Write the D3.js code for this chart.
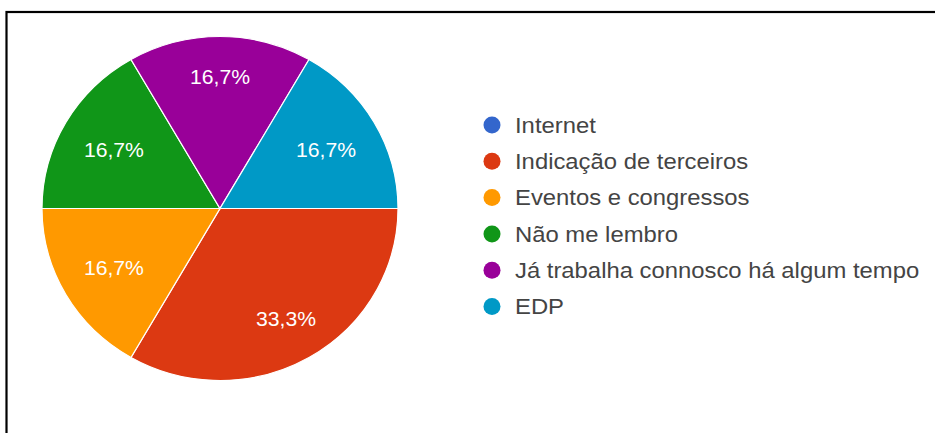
<!DOCTYPE html>
<html>
<head>
<meta charset="utf-8">
<script src="https://cdn.jsdelivr.net/npm/d3@7"></script>
<style>
  html, body { margin: 0; padding: 0; background: #fff; }
  svg { display: block; }
</style>
</head>
<body>
<svg id="chart" width="935" height="433"></svg>
<script>
// Survey answers: how respondents found us
const categories = [
  "Internet",
  "Indicação de terceiros",
  "Eventos e congressos",
  "Não me lembro",
  "Já trabalha connosco há algum tempo",
  "EDP"
];
const values = [0, 2, 1, 1, 1, 1];
const colors = ["#3366cc", "#dc3912", "#ff9900", "#109618", "#990099", "#0099c6"];

const W = 935, H = 433;
const svg = d3.select("#chart");
const FONT = "Liberation Sans, Arial, sans-serif";
const textStretch = 1.06;   // slightly wide lettering

// Frame around the chart area
svg.append("rect")
  .attr("x", 6.5).attr("y", 12)
  .attr("width", W + 20).attr("height", H + 20)
  .attr("fill", "none").attr("stroke", "#000").attr("stroke-width", 2.2);

const cx = 220, cy = 208.5, R = 172, sx = 1.035;
const total = d3.sum(values);

const pie = d3.pie()
  .value(d => d.value)
  .sort(null)
  .startAngle(Math.PI / 2)
  .endAngle(Math.PI / 2 + 2 * Math.PI);

const data = categories.map((c, i) => ({ name: c, value: values[i], color: colors[i] }));
const arcs = pie(data).filter(a => a.data.value > 0);

const arc = d3.arc().innerRadius(0).outerRadius(R);

const g = svg.append("g").attr("transform", `translate(${cx},${cy}) scale(${sx},1)`);
g.selectAll("path")
  .data(arcs)
  .join("path")
  .attr("d", arc)
  .attr("fill", d => d.data.color)
  .attr("stroke", "#fff")
  .attr("stroke-width", 1.2);

// Percentage labels inside the slices; wide labels on the left/right sides
// are pulled a little further in so they stay clear of the slice edges.
const fmt = v => (v * 100).toFixed(1).replace(".", ",") + "%";
const labelPos = d => {
  const a = (d.startAngle + d.endAngle) / 2;
  const r = R * 0.715 + R * 0.054 * Math.cos(2 * a);
  return [cx + sx * r * Math.sin(a), cy - r * Math.cos(a)];
};
svg.append("g").selectAll("text")
  .data(arcs)
  .join("text")
  .attr("transform", d => {
    const [x, y] = labelPos(d);
    return `translate(${x},${y}) scale(${textStretch},1)`;
  })
  .attr("text-anchor", "middle")
  .attr("dominant-baseline", "central")
  .attr("font-family", FONT)
  .attr("font-size", 20)
  .attr("fill", "#fff")
  .text(d => fmt(d.data.value / total));

// Legend
const legend = svg.append("g").attr("transform", "translate(492,125)");
const rowH = 36.3;
const rows = legend.selectAll("g")
  .data(data)
  .join("g")
  .attr("transform", (d, i) => `translate(0,${i * rowH})`);
rows.append("circle")
  .attr("r", 8.5)
  .attr("fill", d => d.color);
rows.append("text")
  .attr("transform", `translate(23,0) scale(${textStretch},1)`)
  .attr("dominant-baseline", "central")
  .attr("font-family", FONT)
  .attr("font-size", 22.5)
  .attr("fill", "#444")
  .text(d => d.name);
</script>
</body>
</html>
